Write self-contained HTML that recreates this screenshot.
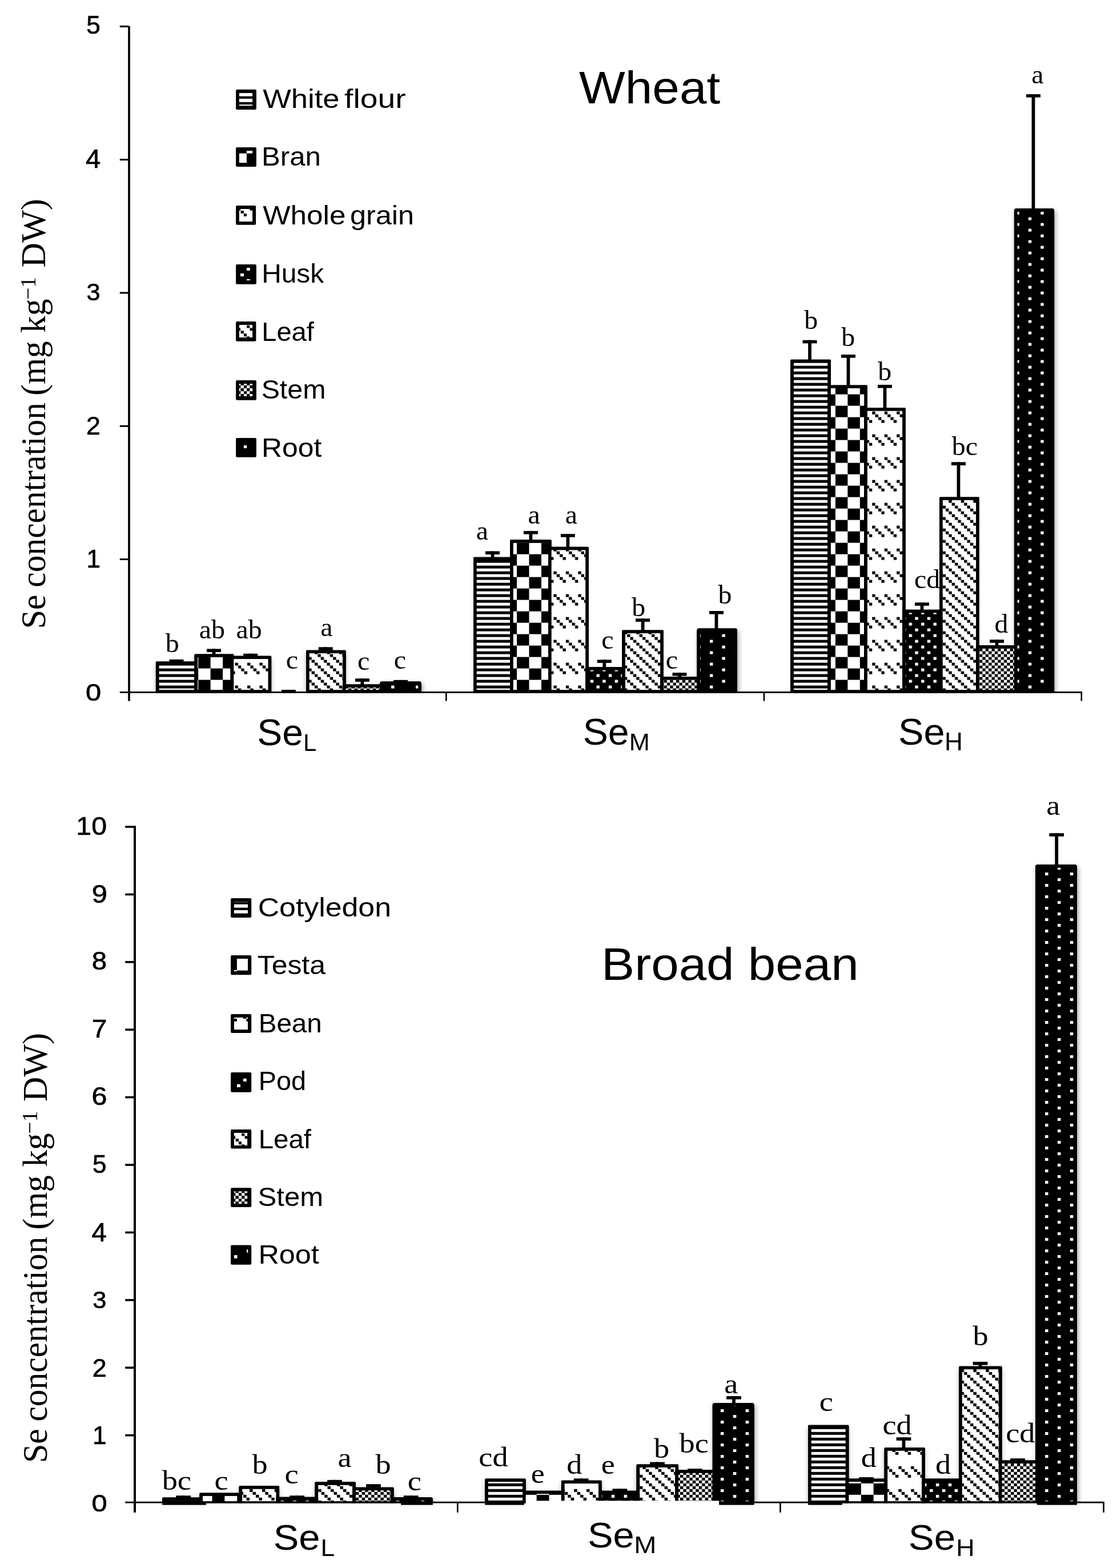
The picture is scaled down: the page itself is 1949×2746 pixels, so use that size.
<!DOCTYPE html>
<html lang="en"><head><meta charset="utf-8"><title>Se concentration in wheat and broad bean</title>
<style>html,body{margin:0;padding:0;background:#fff}svg{display:block}text{fill:#000}</style></head><body>
<svg width="1949" height="2746" viewBox="0 0 1949 2746">
<defs>
<filter id="shr" x="-40%" y="-5%" width="180%" height="110%"><feGaussianBlur stdDeviation="4.5 4.5"/><feOffset dx="1.5" dy="4"/></filter>
<filter id="sh" x="-30%" y="-5%" width="160%" height="110%"><feGaussianBlur stdDeviation="4 4"/><feOffset dx="0" dy="4"/></filter>
<pattern id="t-stripe" patternUnits="userSpaceOnUse" x="3.9" y="0.6" width="5.364" height="10"><rect width="5.364" height="10" fill="#fff"/><rect x="0" y="0" width="5.364" height="5" fill="#000"/></pattern>
<pattern id="t-check" patternUnits="userSpaceOnUse" x="3.9" y="30.6" width="42.912" height="40"><rect width="42.912" height="40" fill="#fff"/><rect x="0" y="0" width="21.456" height="20" fill="#000"/><rect x="21.456" y="20" width="21.456" height="20" fill="#000"/></pattern>
<pattern id="t-dash" patternUnits="userSpaceOnUse" x="3.9" y="0.6" width="21.456" height="40"><rect width="21.456" height="40" fill="#fff"/><rect x="0" y="0" width="5.364" height="5" fill="#000"/><rect x="5.364" y="5" width="5.364" height="5" fill="#000"/><rect x="10.728" y="10" width="5.364" height="5" fill="#000"/><rect x="16.092" y="15" width="5.364" height="5" fill="#000"/></pattern>
<pattern id="t-husk" patternUnits="userSpaceOnUse" x="14.628" y="0.6" width="21.456" height="20"><rect width="21.456" height="20" fill="#000"/><rect x="0" y="0" width="5.364" height="5" fill="#fff"/><rect x="10.728" y="10" width="5.364" height="5" fill="#fff"/></pattern>
<pattern id="t-leaf" patternUnits="userSpaceOnUse" x="14.628" y="0.6" width="21.456" height="20"><rect width="21.456" height="20" fill="#fff"/><rect x="0" y="0" width="5.364" height="5" fill="#000"/><rect x="5.364" y="5" width="5.364" height="5" fill="#000"/><rect x="10.728" y="10" width="5.364" height="5" fill="#000"/><rect x="16.092" y="15" width="5.364" height="5" fill="#000"/></pattern>
<pattern id="t-stem" patternUnits="userSpaceOnUse" x="3.9" y="0.6" width="10.728" height="10"><rect width="10.728" height="10" fill="#fff"/><rect x="0" y="0" width="5.364" height="5" fill="#000"/><rect x="5.364" y="5" width="5.364" height="5" fill="#000"/></pattern>
<pattern id="t-root" patternUnits="userSpaceOnUse" x="41.448" y="0.6" width="42.912" height="20"><rect width="42.912" height="20" fill="#000"/><rect x="0" y="0" width="5.364" height="5" fill="#fff"/><rect x="21.456" y="10" width="5.364" height="5" fill="#fff"/></pattern>
<pattern id="b-stripe" patternUnits="userSpaceOnUse" x="0" y="7.8" width="5.463" height="10"><rect width="5.463" height="10" fill="#fff"/><rect x="0" y="0" width="5.463" height="5" fill="#000"/></pattern>
<pattern id="b-check" patternUnits="userSpaceOnUse" x="21.868" y="17.8" width="43.704" height="40"><rect width="43.704" height="40" fill="#fff"/><rect x="0" y="0" width="21.852" height="20" fill="#000"/><rect x="21.852" y="20" width="21.852" height="20" fill="#000"/></pattern>
<pattern id="b-dash" patternUnits="userSpaceOnUse" x="0" y="7.8" width="21.852" height="40"><rect width="21.852" height="40" fill="#fff"/><rect x="0" y="0" width="5.463" height="5" fill="#000"/><rect x="5.463" y="5" width="5.463" height="5" fill="#000"/><rect x="10.926" y="10" width="5.463" height="5" fill="#000"/><rect x="16.389" y="15" width="5.463" height="5" fill="#000"/></pattern>
<pattern id="b-husk" patternUnits="userSpaceOnUse" x="0" y="17.9" width="21.852" height="20"><rect width="21.852" height="20" fill="#000"/><rect x="0" y="0" width="5.463" height="5" fill="#fff"/><rect x="10.926" y="10" width="5.463" height="5" fill="#fff"/></pattern>
<pattern id="b-leaf" patternUnits="userSpaceOnUse" x="0" y="17.8" width="21.852" height="20"><rect width="21.852" height="20" fill="#fff"/><rect x="0" y="0" width="5.463" height="5" fill="#000"/><rect x="5.463" y="5" width="5.463" height="5" fill="#000"/><rect x="10.926" y="10" width="5.463" height="5" fill="#000"/><rect x="16.389" y="15" width="5.463" height="5" fill="#000"/></pattern>
<pattern id="b-stem" patternUnits="userSpaceOnUse" x="0" y="2.8" width="10.926" height="10"><rect width="10.926" height="10" fill="#fff"/><rect x="0" y="0" width="5.463" height="5" fill="#000"/><rect x="5.463" y="5" width="5.463" height="5" fill="#000"/></pattern>
<pattern id="b-root" patternUnits="userSpaceOnUse" x="38.236" y="8" width="43.704" height="20"><rect width="43.704" height="20" fill="#000"/><rect x="0" y="0" width="5.463" height="5" fill="#fff"/><rect x="21.852" y="10" width="5.463" height="5" fill="#fff"/></pattern>
</defs>
<rect width="1949" height="2746" fill="#fff"/>
<text transform="matrix(1.1200 0 0 1 1761.23 2525.50)" font-family="'Liberation Serif', serif" font-size="48.5" >cd</text>
<clipPath id="clip-t"><rect x="0" y="-14" width="1949" height="1226.4"/></clipPath>
<g clip-path="url(#clip-t)"><g filter="url(#sh)" opacity="0.28"><rect x="272.9" y="1158.2" width="73.2" height="55.5"/><rect x="340.4" y="1145.3" width="68.925" height="68.4"/><rect x="403.625" y="1148.4" width="71.575" height="65.3"/><rect x="536" y="1138.4" width="69.7" height="75.3"/><rect x="600" y="1198.3" width="71" height="15.4"/></g><g filter="url(#shr)" opacity="0.4"><rect x="665.3" y="1193.3" width="72.6" height="20.4"/><rect x="1220.4" y="1100.2" width="70.6" height="113.5"/><rect x="1775.9" y="365.1" width="70.2" height="848.6"/></g></g>
<g><rect x="272.9" y="1158.2" width="73.2" height="55.5" rx="1.5" fill="#000"/><rect x="272.9" y="1160.2" width="73.2" height="53.5" fill="#000"/><rect x="278.6" y="1163.9" width="61.8" height="44.3" fill="url(#t-stripe)"/><rect x="340.4" y="1145.3" width="68.925" height="68.4" rx="1.5" fill="#000"/><rect x="340.4" y="1147.3" width="68.925" height="66.4" fill="#000"/><rect x="346.1" y="1151" width="57.525" height="57.2" fill="url(#t-check)"/><rect x="403.625" y="1148.4" width="71.575" height="65.3" rx="1.5" fill="#000"/><rect x="403.625" y="1150.4" width="71.575" height="63.3" fill="#000"/><rect x="409.325" y="1154.1" width="60.175" height="54.1" fill="url(#t-dash)"/><rect x="536" y="1138.4" width="69.7" height="75.3" rx="1.5" fill="#000"/><rect x="536" y="1140.4" width="69.7" height="73.3" fill="#000"/><rect x="541.7" y="1144.1" width="58.3" height="64.1" fill="url(#t-leaf)"/><rect x="600" y="1198.3" width="71" height="15.4" rx="1.5" fill="#000"/><rect x="600" y="1200.3" width="71" height="13.4" fill="#000"/><rect x="605.7" y="1204" width="59.6" height="4.2" fill="url(#t-stem)"/><rect x="665.3" y="1193.3" width="72.6" height="20.4" rx="3.5" fill="#000"/><rect x="665.3" y="1197.3" width="72.6" height="16.4" fill="#000"/><rect x="671" y="1199" width="61.2" height="9.2" fill="url(#t-root)"/><rect x="829" y="975.5" width="70" height="238.2" rx="1.5" fill="#000"/><rect x="829" y="977.5" width="70" height="236.2" fill="#000"/><rect x="834.7" y="981.2" width="58.6" height="227" fill="url(#t-stripe)"/><rect x="893.1" y="945" width="72.6" height="268.7" rx="1.5" fill="#000"/><rect x="893.1" y="947" width="72.6" height="266.7" fill="#000"/><rect x="898.8" y="950.7" width="61.2" height="257.5" fill="url(#t-check)"/><rect x="960" y="957.6" width="70.9" height="256.1" rx="1.5" fill="#000"/><rect x="960" y="959.6" width="70.9" height="254.1" fill="#000"/><rect x="965.7" y="963.3" width="59.5" height="244.9" fill="url(#t-dash)"/><rect x="1025.2" y="1168" width="69.8" height="45.7" rx="1.5" fill="#000"/><rect x="1025.2" y="1170" width="69.8" height="43.7" fill="#000"/><rect x="1030.9" y="1173.7" width="58.4" height="34.5" fill="url(#t-husk)"/><rect x="1089.3" y="1103.3" width="72.6" height="110.4" rx="1.5" fill="#000"/><rect x="1089.3" y="1105.3" width="72.6" height="108.4" fill="#000"/><rect x="1095" y="1109" width="61.2" height="99.2" fill="url(#t-leaf)"/><rect x="1156.2" y="1184.9" width="69.9" height="28.8" rx="1.5" fill="#000"/><rect x="1156.2" y="1186.9" width="69.9" height="26.8" fill="#000"/><rect x="1161.9" y="1190.6" width="58.5" height="17.6" fill="url(#t-stem)"/><rect x="1220.4" y="1100.2" width="70.6" height="113.5" rx="3.5" fill="#000"/><rect x="1220.4" y="1104.2" width="70.6" height="109.5" fill="#000"/><rect x="1226.1" y="1105.9" width="59.2" height="102.3" fill="url(#t-root)"/><rect x="1384.2" y="629.4" width="70.7" height="584.3" rx="1.5" fill="#000"/><rect x="1384.2" y="631.4" width="70.7" height="582.3" fill="#000"/><rect x="1389.9" y="635.1" width="59.3" height="573.1" fill="url(#t-stripe)"/><rect x="1449.2" y="674.3" width="69.7" height="539.4" rx="1.5" fill="#000"/><rect x="1449.2" y="676.3" width="69.7" height="537.4" fill="#000"/><rect x="1454.9" y="680" width="58.3" height="528.2" fill="url(#t-check)"/><rect x="1513.2" y="714" width="72.6" height="499.7" rx="1.5" fill="#000"/><rect x="1513.2" y="716" width="72.6" height="497.7" fill="#000"/><rect x="1518.9" y="719.7" width="61.2" height="488.5" fill="url(#t-dash)"/><rect x="1580.1" y="1067.6" width="70.6" height="146.1" rx="1.5" fill="#000"/><rect x="1580.1" y="1069.6" width="70.6" height="144.1" fill="#000"/><rect x="1585.8" y="1073.3" width="59.2" height="134.9" fill="url(#t-husk)"/><rect x="1645" y="870.2" width="69.8" height="343.5" rx="1.5" fill="#000"/><rect x="1645" y="872.2" width="69.8" height="341.5" fill="#000"/><rect x="1650.7" y="875.9" width="58.4" height="332.3" fill="url(#t-leaf)"/><rect x="1709.1" y="1130.1" width="72.5" height="83.6" rx="1.5" fill="#000"/><rect x="1709.1" y="1132.1" width="72.5" height="81.6" fill="#000"/><rect x="1714.8" y="1135.8" width="61.1" height="72.4" fill="url(#t-stem)"/><rect x="1775.9" y="365.1" width="70.2" height="848.6" rx="3.5" fill="#000"/><rect x="1775.9" y="369.1" width="70.2" height="844.6" fill="#000"/><rect x="1781.6" y="370.8" width="58.8" height="837.4" fill="url(#t-root)"/></g>
<g fill="#000"><rect x="296.5" y="1154.9" width="25" height="5.6"/><rect x="306.1" y="1154.9" width="5.8" height="4.3"/><rect x="362" y="1136.4" width="25" height="5.6"/><rect x="371.6" y="1136.4" width="5.8" height="9.9"/><rect x="426.2" y="1144.7" width="25" height="5.6"/><rect x="435.8" y="1144.7" width="5.8" height="4.7"/><rect x="492.9" y="1208" width="25" height="5.6"/><rect x="502.5" y="1208" width="5.8" height="5.4"/><rect x="557.7" y="1133.3" width="25" height="5.6"/><rect x="567.3" y="1133.3" width="5.8" height="6.1"/><rect x="621.9" y="1188.3" width="25" height="5.6"/><rect x="631.5" y="1188.3" width="5.8" height="11"/><rect x="689.1" y="1190.9" width="25" height="5.6"/><rect x="698.7" y="1190.9" width="5.8" height="3.4"/><rect x="850" y="965.4" width="25" height="5.6"/><rect x="859.6" y="965.4" width="5.8" height="11.1"/><rect x="916.9" y="929.9" width="25" height="5.6"/><rect x="926.5" y="929.9" width="5.8" height="16.1"/><rect x="981.9" y="935.1" width="25" height="5.6"/><rect x="991.5" y="935.1" width="5.8" height="23.5"/><rect x="1045.8" y="1155.4" width="25" height="5.6"/><rect x="1055.4" y="1155.4" width="5.8" height="13.6"/><rect x="1113.1" y="1083.3" width="25" height="5.6"/><rect x="1122.7" y="1083.3" width="5.8" height="21"/><rect x="1177.5" y="1178.1" width="25" height="5.6"/><rect x="1187.1" y="1178.1" width="5.8" height="7.8"/><rect x="1242" y="1070" width="25" height="5.6"/><rect x="1251.6" y="1070" width="5.8" height="31.2"/><rect x="1405.5" y="595.7" width="25" height="5.6"/><rect x="1415.1" y="595.7" width="5.8" height="34.7"/><rect x="1473" y="621" width="25" height="5.6"/><rect x="1482.6" y="621" width="5.8" height="54.3"/><rect x="1537" y="673.9" width="25" height="5.6"/><rect x="1546.6" y="673.9" width="5.8" height="41.1"/><rect x="1602" y="1055.2" width="25" height="5.6"/><rect x="1611.6" y="1055.2" width="5.8" height="13.4"/><rect x="1666" y="809.3" width="25" height="5.6"/><rect x="1675.6" y="809.3" width="5.8" height="61.9"/><rect x="1733.1" y="1120.2" width="25" height="5.6"/><rect x="1742.7" y="1120.2" width="5.8" height="10.9"/><rect x="1797" y="165" width="25" height="5.6"/><rect x="1806.6" y="165" width="5.8" height="201.1"/></g>
<g fill="#000">
<rect x="224.15" y="46" width="3.7" height="1181.6"/>
<rect x="209.8" y="1211" width="1685.3" height="2.8"/>
<rect x="209.8" y="978" width="16.2" height="3"/>
<rect x="209.8" y="744.7" width="16.2" height="3"/>
<rect x="209.8" y="511.4" width="16.2" height="3"/>
<rect x="209.8" y="278.1" width="16.2" height="3"/>
<rect x="209.8" y="44.8" width="16.2" height="3"/>
<rect x="780" y="1212.4" width="2.6" height="15.2"/>
<rect x="1336.7" y="1212.4" width="2.6" height="15.2"/>
<rect x="1892.5" y="1212.4" width="2.6" height="15.2"/>
</g>
<g fill="#fff"></g>
<g fill="#000"></g>
<clipPath id="clip-b"><rect x="0" y="1386.2" width="1949" height="1244.9"/></clipPath>
<g clip-path="url(#clip-b)"><g filter="url(#sh)" opacity="0.28"><rect x="284.1" y="2622.2" width="70.9" height="10.1"/><rect x="349.3" y="2614.2" width="74.9" height="18.1"/><rect x="418.5" y="2602" width="70.6" height="30.3"/><rect x="483.4" y="2621.6" width="73.7" height="10.7"/><rect x="551.4" y="2595.1" width="71.5" height="37.2"/><rect x="617.2" y="2604.4" width="72.4" height="27.9"/><rect x="849.2" y="2589.3" width="71.5" height="43"/><rect x="915" y="2610.4" width="73.6" height="21.9"/><rect x="982.9" y="2592.4" width="70.8" height="39.9"/><rect x="1048" y="2610.4" width="72.2" height="21.9"/><rect x="1114.5" y="2564.2" width="73.6" height="68.1"/><rect x="1182.4" y="2574" width="71" height="58.3"/><rect x="1415" y="2495.5" width="71.4" height="136.8"/><rect x="1480.7" y="2589.3" width="73.5" height="43"/><rect x="1548.5" y="2535" width="71.4" height="97.3"/><rect x="1614.2" y="2589.3" width="70.7" height="43"/><rect x="1679.2" y="2392.4" width="75.4" height="239.9"/><rect x="1748.9" y="2557.2" width="69.8" height="75.1"/></g><g filter="url(#shr)" opacity="0.4"><rect x="683.9" y="2621.9" width="74" height="10.4"/><rect x="1247.7" y="2457" width="73" height="175.3"/><rect x="1813" y="1514" width="73" height="1118.3"/></g></g>
<g><rect x="284.1" y="2622.2" width="70.9" height="10.1" rx="1.5" fill="#000"/><rect x="284.1" y="2624.2" width="70.9" height="8.1" fill="#000"/><rect x="289.8" y="2627.9" width="59.5" height="1.2" fill="url(#b-stripe)"/><rect x="349.3" y="2614.2" width="74.9" height="18.1" rx="1.5" fill="#000"/><rect x="349.3" y="2616.2" width="74.9" height="16.1" fill="#000"/><rect x="355" y="2619.9" width="63.5" height="9.2" fill="url(#b-check)"/><rect x="418.5" y="2602" width="70.6" height="30.3" rx="1.5" fill="#000"/><rect x="418.5" y="2604" width="70.6" height="28.3" fill="#000"/><rect x="424.2" y="2607.7" width="59.2" height="21.4" fill="url(#b-dash)"/><rect x="483.4" y="2621.6" width="73.7" height="10.7" rx="1.5" fill="#000"/><rect x="483.4" y="2623.6" width="73.7" height="8.7" fill="#000"/><rect x="489.1" y="2627.3" width="62.3" height="1.8" fill="url(#b-husk)"/><rect x="551.4" y="2595.1" width="71.5" height="37.2" rx="1.5" fill="#000"/><rect x="551.4" y="2597.1" width="71.5" height="35.2" fill="#000"/><rect x="557.1" y="2600.8" width="60.1" height="28.3" fill="url(#b-leaf)"/><rect x="617.2" y="2604.4" width="72.4" height="27.9" rx="1.5" fill="#000"/><rect x="617.2" y="2606.4" width="72.4" height="25.9" fill="#000"/><rect x="622.9" y="2610.1" width="61" height="19" fill="url(#b-stem)"/><rect x="683.9" y="2621.9" width="74" height="10.4" rx="3.5" fill="#000"/><rect x="683.9" y="2625.9" width="74" height="6.4" fill="#000"/><rect x="689.6" y="2627.6" width="62.6" height="1.5" fill="url(#b-root)"/><rect x="849.2" y="2589.3" width="71.5" height="43" rx="1.5" fill="#000"/><rect x="849.2" y="2591.3" width="71.5" height="41" fill="#000"/><rect x="854.9" y="2595" width="60.1" height="34.1" fill="url(#b-stripe)"/><rect x="915" y="2610.4" width="73.6" height="21.9" rx="1.5" fill="#000"/><rect x="915" y="2612.4" width="73.6" height="19.9" fill="#000"/><rect x="920.7" y="2616.1" width="62.2" height="13" fill="url(#b-check)"/><rect x="982.9" y="2592.4" width="70.8" height="39.9" rx="1.5" fill="#000"/><rect x="982.9" y="2594.4" width="70.8" height="37.9" fill="#000"/><rect x="988.6" y="2598.1" width="59.4" height="31" fill="url(#b-dash)"/><rect x="1048" y="2610.4" width="72.2" height="21.9" rx="1.5" fill="#000"/><rect x="1048" y="2612.4" width="72.2" height="19.9" fill="#000"/><rect x="1053.7" y="2616.1" width="60.8" height="13" fill="url(#b-husk)"/><rect x="1114.5" y="2564.2" width="73.6" height="68.1" rx="1.5" fill="#000"/><rect x="1114.5" y="2566.2" width="73.6" height="66.1" fill="#000"/><rect x="1120.2" y="2569.9" width="62.2" height="59.2" fill="url(#b-leaf)"/><rect x="1182.4" y="2574" width="71" height="58.3" rx="1.5" fill="#000"/><rect x="1182.4" y="2576" width="71" height="56.3" fill="#000"/><rect x="1188.1" y="2579.7" width="59.6" height="49.4" fill="url(#b-stem)"/><rect x="1247.7" y="2457" width="73" height="175.3" rx="3.5" fill="#000"/><rect x="1247.7" y="2461" width="73" height="171.3" fill="#000"/><rect x="1253.4" y="2462.7" width="61.6" height="166.4" fill="url(#b-root)"/><rect x="1415" y="2495.5" width="71.4" height="136.8" rx="1.5" fill="#000"/><rect x="1415" y="2497.5" width="71.4" height="134.8" fill="#000"/><rect x="1420.7" y="2501.2" width="60" height="127.9" fill="url(#b-stripe)"/><rect x="1480.7" y="2589.3" width="73.5" height="43" rx="1.5" fill="#000"/><rect x="1480.7" y="2591.3" width="73.5" height="41" fill="#000"/><rect x="1486.4" y="2595" width="62.1" height="34.1" fill="url(#b-check)"/><rect x="1548.5" y="2535" width="71.4" height="97.3" rx="1.5" fill="#000"/><rect x="1548.5" y="2537" width="71.4" height="95.3" fill="#000"/><rect x="1554.2" y="2540.7" width="60" height="88.4" fill="url(#b-dash)"/><rect x="1614.2" y="2589.3" width="70.7" height="43" rx="1.5" fill="#000"/><rect x="1614.2" y="2591.3" width="70.7" height="41" fill="#000"/><rect x="1619.9" y="2595" width="59.3" height="34.1" fill="url(#b-husk)"/><rect x="1679.2" y="2392.4" width="75.4" height="239.9" rx="1.5" fill="#000"/><rect x="1679.2" y="2394.4" width="75.4" height="237.9" fill="#000"/><rect x="1684.9" y="2398.1" width="64" height="231" fill="url(#b-leaf)"/><rect x="1748.9" y="2557.2" width="69.8" height="75.1" rx="1.5" fill="#000"/><rect x="1748.9" y="2559.2" width="69.8" height="73.1" fill="#000"/><rect x="1754.6" y="2562.9" width="58.4" height="66.2" fill="url(#b-stem)"/><rect x="1813" y="1514" width="73" height="1118.3" rx="3.5" fill="#000"/><rect x="1813" y="1518" width="73" height="1114.3" fill="#000"/><rect x="1818.7" y="1519.7" width="61.6" height="1109.4" fill="url(#b-root)"/></g>
<g fill="#000"><rect x="308.2" y="2619.2" width="25.8" height="5.6"/><rect x="318.2" y="2619.2" width="5.8" height="4"/><rect x="507.2" y="2619.2" width="25.8" height="5.6"/><rect x="517.2" y="2619.2" width="5.8" height="3.4"/><rect x="573.1" y="2591.8" width="25.8" height="5.6"/><rect x="583.1" y="2591.8" width="5.8" height="4.3"/><rect x="641.1" y="2599.2" width="25.8" height="5.6"/><rect x="651.1" y="2599.2" width="5.8" height="6.2"/><rect x="706.8" y="2619.2" width="25.8" height="5.6"/><rect x="716.8" y="2619.2" width="5.8" height="3.7"/><rect x="1004.8" y="2589.3" width="25.8" height="5.6"/><rect x="1014.8" y="2589.3" width="5.8" height="4.1"/><rect x="1072.5" y="2607.2" width="25.8" height="5.6"/><rect x="1082.5" y="2607.2" width="5.8" height="4.2"/><rect x="1138.1" y="2560.5" width="25.8" height="5.6"/><rect x="1148.1" y="2560.5" width="5.8" height="4.7"/><rect x="1204" y="2572.1" width="25.8" height="5.6"/><rect x="1214" y="2572.1" width="5.8" height="2.9"/><rect x="1272.1" y="2445" width="25.8" height="5.6"/><rect x="1282.1" y="2445" width="5.8" height="13"/><rect x="1504.2" y="2587" width="25.8" height="5.6"/><rect x="1514.2" y="2587" width="5.8" height="3.3"/><rect x="1569.6" y="2517.2" width="25.8" height="5.6"/><rect x="1579.6" y="2517.2" width="5.8" height="18.8"/><rect x="1703.7" y="2384.9" width="25.8" height="5.6"/><rect x="1713.7" y="2384.9" width="5.8" height="8.5"/><rect x="1769.1" y="2554.1" width="25.8" height="5.6"/><rect x="1779.1" y="2554.1" width="5.8" height="4.1"/><rect x="1837.3" y="1459.2" width="25.8" height="5.6"/><rect x="1847.3" y="1459.2" width="5.8" height="55.8"/></g>
<g fill="#000">
<rect x="234" y="1446.2" width="4" height="1202.6"/>
<rect x="219.2" y="2629.7" width="1714.7" height="2.8"/>
<rect x="219.2" y="2511.8" width="16.8" height="3.6"/>
<rect x="219.2" y="2393.4" width="16.8" height="3.6"/>
<rect x="219.2" y="2275" width="16.8" height="3.6"/>
<rect x="219.2" y="2156.6" width="16.8" height="3.6"/>
<rect x="219.2" y="2038.2" width="16.8" height="3.6"/>
<rect x="219.2" y="1919.8" width="16.8" height="3.6"/>
<rect x="219.2" y="1801.4" width="16.8" height="3.6"/>
<rect x="219.2" y="1683" width="16.8" height="3.6"/>
<rect x="219.2" y="1564.6" width="16.8" height="3.6"/>
<rect x="219.2" y="1446.2" width="16.8" height="3.6"/>
<rect x="800" y="2631.1" width="2.6" height="17.7"/>
<rect x="1365.1" y="2631.1" width="2.6" height="17.7"/>
<rect x="1931.3" y="2631.1" width="2.6" height="17.7"/>
</g>
<g fill="#fff"><rect x="920.7" y="2628.3" width="338.5" height="6.2"/></g>
<g fill="#000"><rect x="284.1" y="2631.1" width="77" height="4.5"/><rect x="702" y="2631.1" width="55.9" height="4.5"/><rect x="849.2" y="2631.1" width="68.7" height="4.5"/><rect x="1259.2" y="2631.1" width="61.5" height="4.5"/><rect x="1415.1" y="2631.1" width="59.8" height="4.5"/><rect x="1816.1" y="2631.1" width="69.9" height="4.5"/></g>
<g><text transform="matrix(1.0854 0 0 0.9640 149.90 1227.17)" font-family="'Liberation Sans', sans-serif" font-size="45" stroke="#000" stroke-width="0.7" stroke-linejoin="round">0</text>
<text transform="matrix(0.9819 0 0 0.9758 151.44 994.35)" font-family="'Liberation Sans', sans-serif" font-size="45" stroke="#000" stroke-width="0.7" stroke-linejoin="round">1</text>
<text transform="matrix(0.9963 0 0 1.0000 151.11 760.75)" font-family="'Liberation Sans', sans-serif" font-size="45" stroke="#000" stroke-width="0.7" stroke-linejoin="round">2</text>
<text transform="matrix(0.9645 0 0 0.9640 151.61 526.02)" font-family="'Liberation Sans', sans-serif" font-size="45" stroke="#000" stroke-width="0.7" stroke-linejoin="round">3</text>
<text transform="matrix(1.0489 0 0 1.0145 149.97 293.65)" font-family="'Liberation Sans', sans-serif" font-size="45" stroke="#000" stroke-width="0.7" stroke-linejoin="round">4</text>
<text transform="matrix(0.9825 0 0 0.9810 151.28 59.11)" font-family="'Liberation Sans', sans-serif" font-size="45" stroke="#000" stroke-width="0.7" stroke-linejoin="round">5</text>
<text transform="matrix(1.0854 0 0 0.9640 160.50 2647.27)" font-family="'Liberation Sans', sans-serif" font-size="45" stroke="#000" stroke-width="0.7" stroke-linejoin="round">0</text>
<text transform="matrix(0.9819 0 0 0.9758 162.04 2528.95)" font-family="'Liberation Sans', sans-serif" font-size="45" stroke="#000" stroke-width="0.7" stroke-linejoin="round">1</text>
<text transform="matrix(0.9963 0 0 1.0000 161.71 2410.85)" font-family="'Liberation Sans', sans-serif" font-size="45" stroke="#000" stroke-width="0.7" stroke-linejoin="round">2</text>
<text transform="matrix(0.9645 0 0 0.9640 162.21 2290.57)" font-family="'Liberation Sans', sans-serif" font-size="45" stroke="#000" stroke-width="0.7" stroke-linejoin="round">3</text>
<text transform="matrix(1.0489 0 0 1.0145 160.57 2173.85)" font-family="'Liberation Sans', sans-serif" font-size="45" stroke="#000" stroke-width="0.7" stroke-linejoin="round">4</text>
<text transform="matrix(0.9825 0 0 0.9810 161.88 2053.91)" font-family="'Liberation Sans', sans-serif" font-size="45" stroke="#000" stroke-width="0.7" stroke-linejoin="round">5</text>
<text transform="matrix(1.0773 0 0 0.9671 160.43 1934.81)" font-family="'Liberation Sans', sans-serif" font-size="45" stroke="#000" stroke-width="0.7" stroke-linejoin="round">6</text>
<text transform="matrix(1.0647 0 0 0.9855 160.75 1817.00)" font-family="'Liberation Sans', sans-serif" font-size="45" stroke="#000" stroke-width="0.7" stroke-linejoin="round">7</text>
<text transform="matrix(1.0544 0 0 0.9671 160.71 1698.31)" font-family="'Liberation Sans', sans-serif" font-size="45" stroke="#000" stroke-width="0.7" stroke-linejoin="round">8</text>
<text transform="matrix(1.0848 0 0 0.9922 160.65 1581.00)" font-family="'Liberation Sans', sans-serif" font-size="45" stroke="#000" stroke-width="0.7" stroke-linejoin="round">9</text>
<text transform="matrix(1.0733 0 0 0.9922 133.33 1461.60)" font-family="'Liberation Sans', sans-serif" font-size="45" stroke="#000" stroke-width="0.7" stroke-linejoin="round">10</text>
<text transform="matrix(1.1429 0 0 1.0000 460.24 188.70)" font-family="'Liberation Sans', sans-serif" font-size="46" >White</text>
<text transform="matrix(1.2010 0 0 1.0000 603.07 188.70)" font-family="'Liberation Sans', sans-serif" font-size="46" >flour</text>
<text transform="matrix(1.0676 0 0 1.0000 458.07 290.30)" font-family="'Liberation Sans', sans-serif" font-size="46" >Bran</text>
<text transform="matrix(1.1147 0 0 1.0000 460.24 392.80)" font-family="'Liberation Sans', sans-serif" font-size="46" >Whole</text>
<text transform="matrix(1.0962 0 0 1.0000 612.98 392.80)" font-family="'Liberation Sans', sans-serif" font-size="46" >grain</text>
<text transform="matrix(1.0405 0 0 1.0000 458.17 494.50)" font-family="'Liberation Sans', sans-serif" font-size="46" >Husk</text>
<text transform="matrix(1.0230 0 0 1.0000 458.24 596.50)" font-family="'Liberation Sans', sans-serif" font-size="46" >Leaf</text>
<text transform="matrix(1.0503 0 0 1.0000 457.63 697.80)" font-family="'Liberation Sans', sans-serif" font-size="46" >Stem</text>
<text transform="matrix(1.0832 0 0 1.0000 458.01 799.80)" font-family="'Liberation Sans', sans-serif" font-size="46" >Root</text>
<text transform="matrix(1.1264 0 0 1.0000 451.71 1605.00)" font-family="'Liberation Sans', sans-serif" font-size="46" >Cotyledon</text>
<text transform="matrix(1.0847 0 0 1.0000 450.75 1705.80)" font-family="'Liberation Sans', sans-serif" font-size="46" >Testa</text>
<text transform="matrix(1.0343 0 0 1.0000 452.69 1807.80)" font-family="'Liberation Sans', sans-serif" font-size="46" >Bean</text>
<text transform="matrix(1.0172 0 0 1.0000 452.76 1908.80)" font-family="'Liberation Sans', sans-serif" font-size="46" >Pod</text>
<text transform="matrix(1.0312 0 0 1.0000 452.71 2010.80)" font-family="'Liberation Sans', sans-serif" font-size="46" >Leaf</text>
<text transform="matrix(1.0660 0 0 1.0000 451.59 2111.70)" font-family="'Liberation Sans', sans-serif" font-size="46" >Stem</text>
<text transform="matrix(1.0950 0 0 1.0000 452.47 2213.20)" font-family="'Liberation Sans', sans-serif" font-size="46" >Root</text>
<text transform="matrix(1.7104 0 0 1.6082 1014.07 180.90)" font-family="'Liberation Sans', sans-serif" font-size="50" >Wheat</text>
<text transform="matrix(1.7433 0 0 1.5810 1053.03 1716.11)" font-family="'Liberation Sans', sans-serif" font-size="50" >Broad bean</text>
<text transform="matrix(1.3198 0 0 1.2817 450.13 1304.86)" font-family="'Liberation Sans', sans-serif" font-size="50" >Se</text>
<text transform="matrix(0.8404 0 0 0.8551 530.94 1314.70)" font-family="'Liberation Sans', sans-serif" font-size="50" >L</text>
<text transform="matrix(1.3233 0 0 1.2817 1020.72 1303.86)" font-family="'Liberation Sans', sans-serif" font-size="50" >Se</text>
<text transform="matrix(0.8657 0 0 0.8551 1101.64 1314.10)" font-family="'Liberation Sans', sans-serif" font-size="50" >M</text>
<text transform="matrix(1.3357 0 0 1.2817 1572.89 1303.86)" font-family="'Liberation Sans', sans-serif" font-size="50" >Se</text>
<text transform="matrix(0.8821 0 0 0.8725 1654.07 1313.70)" font-family="'Liberation Sans', sans-serif" font-size="50" >H</text>
<text transform="matrix(1.3357 0 0 1.2761 478.79 2713.66)" font-family="'Liberation Sans', sans-serif" font-size="50" >Se</text>
<text transform="matrix(0.8854 0 0 0.8580 561.56 2724.60)" font-family="'Liberation Sans', sans-serif" font-size="50" >L</text>
<text transform="matrix(1.3374 0 0 1.2761 1028.89 2709.76)" font-family="'Liberation Sans', sans-serif" font-size="50" >Se</text>
<text transform="matrix(0.9403 0 0 0.8551 1110.14 2720.20)" font-family="'Liberation Sans', sans-serif" font-size="50" >M</text>
<text transform="matrix(1.3463 0 0 1.2761 1590.87 2713.66)" font-family="'Liberation Sans', sans-serif" font-size="50" >Se</text>
<text transform="matrix(0.8964 0 0 0.8580 1674.21 2724.60)" font-family="'Liberation Sans', sans-serif" font-size="50" >H</text>
<text transform="matrix(0 -1.2000 1.2380 0 78.50 1101.30)" font-family="'Liberation Serif', serif" font-size="50">Se</text>
<text transform="matrix(0 -1.1903 1.2380 0 78.50 1028.78)" font-family="'Liberation Serif', serif" font-size="50">concentration</text>
<text transform="matrix(0 -1.1845 1.2380 0 78.50 692.67)" font-family="'Liberation Serif', serif" font-size="50">(mg</text>
<text transform="matrix(0 -1.1833 1.2380 0 78.50 582.68)" font-family="'Liberation Serif', serif" font-size="50">kg</text>
<text transform="matrix(0 -0.7497 0.7640 0 62.00 524.87)" font-family="'Liberation Serif', serif" font-size="50">−1</text>
<text transform="matrix(0 -1.2042 1.2380 0 78.50 468.51)" font-family="'Liberation Serif', serif" font-size="50">DW)</text>
<text transform="matrix(0 -1.2000 1.2380 0 81.80 2562.10)" font-family="'Liberation Serif', serif" font-size="50">Se</text>
<text transform="matrix(0 -1.1903 1.2380 0 81.80 2489.58)" font-family="'Liberation Serif', serif" font-size="50">concentration</text>
<text transform="matrix(0 -1.1845 1.2380 0 81.80 2153.47)" font-family="'Liberation Serif', serif" font-size="50">(mg</text>
<text transform="matrix(0 -1.1833 1.2380 0 81.80 2043.48)" font-family="'Liberation Serif', serif" font-size="50">kg</text>
<text transform="matrix(0 -0.7497 0.7640 0 65.30 1985.67)" font-family="'Liberation Serif', serif" font-size="50">−1</text>
<text transform="matrix(0 -1.2042 1.2380 0 81.80 1929.31)" font-family="'Liberation Serif', serif" font-size="50">DW)</text>
<text transform="matrix(1.0300 0 0 1 289.63 1142.10)" font-family="'Liberation Serif', serif" font-size="46.5" >b</text>
<text transform="matrix(1.0300 0 0 1 348.79 1117.60)" font-family="'Liberation Serif', serif" font-size="46.5" >ab</text>
<text transform="matrix(1.0300 0 0 1 413.44 1117.60)" font-family="'Liberation Serif', serif" font-size="46.5" >ab</text>
<text transform="matrix(1.0300 0 0 1 500.80 1170.50)" font-family="'Liberation Serif', serif" font-size="46.5" >c</text>
<text transform="matrix(1.0300 0 0 1 561.36 1114.40)" font-family="'Liberation Serif', serif" font-size="46.5" >a</text>
<text transform="matrix(1.0300 0 0 1 626.10 1173.40)" font-family="'Liberation Serif', serif" font-size="46.5" >c</text>
<text transform="matrix(1.0300 0 0 1 689.75 1170.50)" font-family="'Liberation Serif', serif" font-size="46.5" >c</text>
<text transform="matrix(1.0300 0 0 1 833.86 944.50)" font-family="'Liberation Serif', serif" font-size="46.5" >a</text>
<text transform="matrix(1.0300 0 0 1 924.61 916.50)" font-family="'Liberation Serif', serif" font-size="46.5" >a</text>
<text transform="matrix(1.0300 0 0 1 989.86 916.50)" font-family="'Liberation Serif', serif" font-size="46.5" >a</text>
<text transform="matrix(1.0300 0 0 1 1053.15 1136.00)" font-family="'Liberation Serif', serif" font-size="46.5" >c</text>
<text transform="matrix(1.0300 0 0 1 1106.28 1079.00)" font-family="'Liberation Serif', serif" font-size="46.5" >b</text>
<text transform="matrix(1.0300 0 0 1 1165.85 1171.00)" font-family="'Liberation Serif', serif" font-size="46.5" >c</text>
<text transform="matrix(1.0300 0 0 1 1257.48 1056.70)" font-family="'Liberation Serif', serif" font-size="46.5" >b</text>
<text transform="matrix(1.0300 0 0 1 1408.28 576.00)" font-family="'Liberation Serif', serif" font-size="46.5" >b</text>
<text transform="matrix(1.0300 0 0 1 1473.18 605.50)" font-family="'Liberation Serif', serif" font-size="46.5" >b</text>
<text transform="matrix(1.0300 0 0 1 1537.23 665.60)" font-family="'Liberation Serif', serif" font-size="46.5" >b</text>
<text transform="matrix(1.0300 0 0 1 1601.07 1030.30)" font-family="'Liberation Serif', serif" font-size="46.5" >cd</text>
<text transform="matrix(1.0300 0 0 1 1666.79 796.50)" font-family="'Liberation Serif', serif" font-size="46.5" >bc</text>
<text transform="matrix(1.0300 0 0 1 1741.38 1108.00)" font-family="'Liberation Serif', serif" font-size="46.5" >d</text>
<text transform="matrix(1.0300 0 0 1 1806.16 146.00)" font-family="'Liberation Serif', serif" font-size="46.5" >a</text>
<text transform="matrix(1.1200 0 0 1 283.65 2609.00)" font-family="'Liberation Serif', serif" font-size="48.5" >bc</text>
<text transform="matrix(1.1200 0 0 1 375.54 2609.00)" font-family="'Liberation Serif', serif" font-size="48.5" >c</text>
<text transform="matrix(1.1200 0 0 1 441.51 2581.00)" font-family="'Liberation Serif', serif" font-size="48.5" >b</text>
<text transform="matrix(1.1200 0 0 1 498.44 2597.50)" font-family="'Liberation Serif', serif" font-size="48.5" >c</text>
<text transform="matrix(1.1200 0 0 1 591.42 2569.00)" font-family="'Liberation Serif', serif" font-size="48.5" >a</text>
<text transform="matrix(1.1200 0 0 1 657.61 2581.00)" font-family="'Liberation Serif', serif" font-size="48.5" >b</text>
<text transform="matrix(1.1200 0 0 1 713.79 2609.50)" font-family="'Liberation Serif', serif" font-size="48.5" >c</text>
<text transform="matrix(1.1200 0 0 1 838.30 2568.40)" font-family="'Liberation Serif', serif" font-size="48.5" >cd</text>
<text transform="matrix(1.1200 0 0 1 929.73 2596.70)" font-family="'Liberation Serif', serif" font-size="48.5" >e</text>
<text transform="matrix(1.1200 0 0 1 992.14 2580.60)" font-family="'Liberation Serif', serif" font-size="48.5" >d</text>
<text transform="matrix(1.1200 0 0 1 1052.83 2580.60)" font-family="'Liberation Serif', serif" font-size="48.5" >e</text>
<text transform="matrix(1.1200 0 0 1 1145.01 2553.30)" font-family="'Liberation Serif', serif" font-size="48.5" >b</text>
<text transform="matrix(1.1200 0 0 1 1189.55 2544.00)" font-family="'Liberation Serif', serif" font-size="48.5" >bc</text>
<text transform="matrix(1.1200 0 0 1 1268.27 2439.60)" font-family="'Liberation Serif', serif" font-size="48.5" >a</text>
<text transform="matrix(1.1200 0 0 1 1434.64 2471.00)" font-family="'Liberation Serif', serif" font-size="48.5" >c</text>
<text transform="matrix(1.1200 0 0 1 1507.84 2568.50)" font-family="'Liberation Serif', serif" font-size="48.5" >d</text>
<text transform="matrix(1.1200 0 0 1 1545.45 2512.00)" font-family="'Liberation Serif', serif" font-size="48.5" >cd</text>
<text transform="matrix(1.1200 0 0 1 1638.09 2581.00)" font-family="'Liberation Serif', serif" font-size="48.5" >d</text>
<text transform="matrix(1.1200 0 0 1 1703.61 2356.00)" font-family="'Liberation Serif', serif" font-size="48.5" >b</text>
<text transform="matrix(1.1200 0 0 1 1832.37 1426.60)" font-family="'Liberation Serif', serif" font-size="48.5" >a</text></g>
<g><rect x="413.1" y="156.8" width="35.8" height="35.1" rx="2" fill="#000"/><rect x="418.9" y="162.9" width="23.2" height="5.7" fill="#fff"/><rect x="418.9" y="172.9" width="23.2" height="5.9" fill="#fff"/><rect x="418.9" y="183.1" width="23.2" height="2" fill="#fff"/><rect x="413.1" y="257.9" width="35.8" height="34" rx="2" fill="#000"/><rect x="418.9" y="268.6" width="13" height="16.5" fill="#fff"/><rect x="431.9" y="264" width="10.2" height="4.6" fill="#fff"/><rect x="413.1" y="359.9" width="35" height="33.9" rx="2" fill="#000"/><rect x="418.9" y="366" width="23.2" height="22" fill="#fff"/><rect x="421.5" y="369.1" width="5.4" height="4.6" fill="#000"/><rect x="426.9" y="374" width="5" height="4.8" fill="#000"/><rect x="418.9" y="366" width="2.2" height="2.6" fill="#000"/><rect x="437.6" y="366" width="4.5" height="2.6" fill="#000"/><rect x="413.1" y="462.9" width="35.8" height="34.9" rx="2" fill="#000"/><rect x="431.9" y="469" width="6" height="4.9" fill="#fff"/><rect x="421" y="478.9" width="6" height="5" fill="#fff"/><rect x="431.9" y="488.9" width="6" height="2.1" fill="#fff"/><rect x="413.1" y="562.9" width="35.3" height="34.9" rx="2" fill="#000"/><rect x="418.9" y="569" width="23.2" height="22" fill="#fff"/><rect x="432.1" y="569.8" width="5.2" height="4.6" fill="#000"/><rect x="437.6" y="574.4" width="4.5" height="4.9" fill="#000"/><rect x="418.9" y="574.4" width="2.1" height="4.9" fill="#000"/><rect x="421.6" y="579.3" width="5.3" height="4.9" fill="#000"/><rect x="427" y="584.2" width="4.9" height="5.1" fill="#000"/><rect x="432.1" y="589.3" width="5.2" height="1.7" fill="#000"/><rect x="413.1" y="665.9" width="35.8" height="34.9" rx="2" fill="#000"/><rect x="418.9" y="672" width="23.2" height="22" fill="#fff"/><rect x="421.3" y="672" width="5.6" height="2.9" fill="#000"/><rect x="432.1" y="672" width="5.2" height="2.9" fill="#000"/><rect x="418.9" y="674.9" width="2.4" height="5" fill="#000"/><rect x="426.9" y="674.9" width="5.2" height="5" fill="#000"/><rect x="437.3" y="674.9" width="4.8" height="5" fill="#000"/><rect x="421.3" y="679.9" width="5.6" height="5.2" fill="#000"/><rect x="432.1" y="679.9" width="5.2" height="5.2" fill="#000"/><rect x="418.9" y="685.1" width="2.4" height="4.9" fill="#000"/><rect x="426.9" y="685.1" width="5.2" height="4.9" fill="#000"/><rect x="437.3" y="685.1" width="4.8" height="4.9" fill="#000"/><rect x="421.3" y="690" width="5.6" height="4" fill="#000"/><rect x="432.1" y="690" width="5.2" height="4" fill="#000"/><rect x="413.1" y="766.9" width="35.8" height="33.9" rx="2" fill="#000"/><rect x="426.9" y="779.9" width="5.2" height="5" fill="#fff"/><rect x="404.1" y="1572.9" width="36.1" height="34" rx="2" fill="#000"/><rect x="409.9" y="1583.7" width="24.1" height="5.9" fill="#fff"/><rect x="409.9" y="1593.9" width="24.1" height="5.7" fill="#fff"/><rect x="409.9" y="1579" width="24.1" height="1.1" fill="#666"/><rect x="404.1" y="1672.9" width="36.1" height="34.3" rx="2" fill="#000"/><rect x="414.9" y="1679" width="19.1" height="20.6" fill="#fff"/><rect x="409.9" y="1699" width="5" height="2" fill="#fff"/><rect x="404.1" y="1775.9" width="36.1" height="33" rx="2" fill="#000"/><rect x="409.9" y="1782" width="24.1" height="21.1" fill="#fff"/><rect x="409.9" y="1784" width="5" height="4.9" fill="#000"/><rect x="426" y="1782" width="5.1" height="2" fill="#000"/><rect x="431.4" y="1784" width="2.6" height="4.9" fill="#000"/><rect x="404.1" y="1877.9" width="36.1" height="34.9" rx="2" fill="#000"/><rect x="426" y="1888.8" width="5.7" height="5.2" fill="#fff"/><rect x="414.9" y="1898.8" width="5.9" height="5.2" fill="#fff"/><rect x="404.1" y="1977.9" width="36.1" height="33.6" rx="2" fill="#000"/><rect x="409.9" y="1984" width="23.2" height="22" fill="#fff"/><rect x="423.1" y="1984.8" width="5.2" height="4.6" fill="#000"/><rect x="428.6" y="1989.4" width="4.5" height="4.9" fill="#000"/><rect x="409.9" y="1989.4" width="2.1" height="4.9" fill="#000"/><rect x="412.6" y="1994.3" width="5.3" height="4.9" fill="#000"/><rect x="418" y="1999.2" width="4.9" height="5.1" fill="#000"/><rect x="423.1" y="2004.3" width="5.2" height="1.7" fill="#000"/><rect x="404.1" y="2080.2" width="36.1" height="33.7" rx="2" fill="#000"/><rect x="409.9" y="2086.3" width="23.2" height="22" fill="#fff"/><rect x="412.3" y="2086.3" width="5.6" height="2.9" fill="#000"/><rect x="423.1" y="2086.3" width="5.2" height="2.9" fill="#000"/><rect x="409.9" y="2089.2" width="2.4" height="5" fill="#000"/><rect x="417.9" y="2089.2" width="5.2" height="5" fill="#000"/><rect x="428.3" y="2089.2" width="4.8" height="5" fill="#000"/><rect x="412.3" y="2094.2" width="5.6" height="5.2" fill="#000"/><rect x="423.1" y="2094.2" width="5.2" height="5.2" fill="#000"/><rect x="409.9" y="2099.4" width="2.4" height="4.9" fill="#000"/><rect x="417.9" y="2099.4" width="5.2" height="4.9" fill="#000"/><rect x="428.3" y="2099.4" width="4.8" height="4.9" fill="#000"/><rect x="412.3" y="2104.3" width="5.6" height="4" fill="#000"/><rect x="423.1" y="2104.3" width="5.2" height="4" fill="#000"/><rect x="404.1" y="2180.4" width="36.1" height="34.3" rx="2" fill="#000"/><rect x="409.9" y="2198.1" width="5.6" height="5.6" fill="#fff"/><rect x="432.1" y="2188.1" width="2.2" height="5.6" fill="#fff"/></g>
</svg></body></html>
